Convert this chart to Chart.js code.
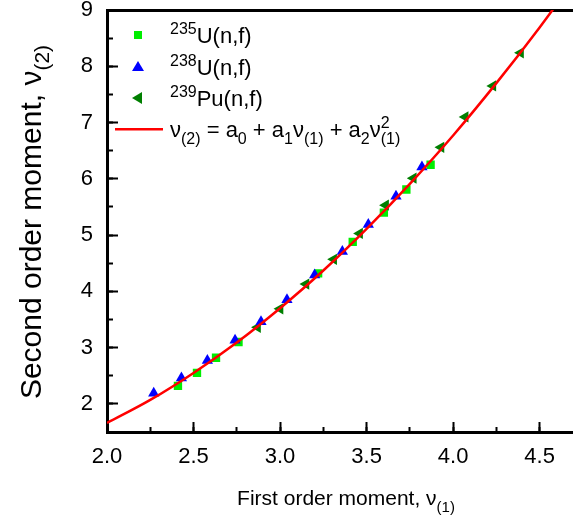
<!DOCTYPE html>
<html>
<head>
<meta charset="utf-8">
<script src="https://cdn.jsdelivr.net/npm/chart.js@4/dist/chart.umd.min.js"></script>
<style>
html,body{margin:0;padding:0;background:#fff;overflow:hidden;}
#wrap{position:relative;width:579px;height:524px;}
</style>
</head>
<body>
<div id="wrap"><canvas id="c" width="579" height="524"></canvas></div>
<script>
// ---- data ----
const u235X = [2.41, 2.52, 2.63, 2.76, 3.22, 3.42, 3.60, 3.73, 3.87];
const u235Y = [2.32, 2.55, 2.82, 3.10, 4.32, 4.88, 5.40, 5.81, 6.25];

const u238X = [2.27, 2.43, 2.58, 2.74, 2.89, 3.04, 3.20, 3.36, 3.51, 3.67, 3.82];
const u238Y = [2.19, 2.46, 2.77, 3.13, 3.46, 3.85, 4.29, 4.71, 5.19, 5.69, 6.21];

const pu239X = [2.87, 3.00, 3.15, 3.31, 3.46, 3.61, 3.77, 3.93, 4.07, 4.23, 4.39];
const pu239Y = [3.36, 3.69, 4.13, 4.57, 5.03, 5.53, 6.01, 6.56, 7.10, 7.65, 8.24];

const fitX = [2.00, 2.25, 2.50, 2.75, 3.00, 3.25, 3.50, 3.75, 4.00, 4.25, 4.50, 4.70];
const fitY = [1.66, 2.07, 2.55, 3.09, 3.70, 4.37, 5.11, 5.91, 6.77, 7.70, 8.69, 9.53];

const xMin = 2.0, xMax = 4.69, xMajor = 0.5, xMinor = 0.25;
const yMin = 1.5, yMax = 9.0, yMajor = 1, yMinor = 0.5;

const FONT = "'Liberation Sans', Arial, Helvetica, sans-serif";
const AXIS = '#000';
const pts = (xs, ys) => xs.map((x, i) => ({x: x, y: ys[i]}));

function drawRich(ctx, x, y, parts, align) {
  let total = 0;
  parts.forEach(p => { ctx.font = p.s + 'px ' + FONT; if (!p.stack) total += ctx.measureText(p.t).width; });
  let cx = align === 'center' ? x - total / 2 : x;
  ctx.textAlign = 'left';
  ctx.textBaseline = 'alphabetic';
  parts.forEach(p => {
    ctx.font = p.s + 'px ' + FONT;
    ctx.fillText(p.t, cx, y + (p.dy || 0));
    if (!p.stack) cx += ctx.measureText(p.t).width;
  });
}

const decor = {
  id: 'decor',
  afterDraw(chart) {
    const ctx = chart.ctx;
    ctx.save();
    const lx = 138;
    const rows = [35, 67, 98];
    ctx.fillStyle = '#00ee00';
    ctx.fillRect(lx - 4, rows[0] - 4, 8, 8);
    ctx.fillStyle = '#0000ff';
    ctx.beginPath();
    ctx.moveTo(lx, rows[1] - 6); ctx.lineTo(lx + 6, rows[1] + 4); ctx.lineTo(lx - 6, rows[1] + 4); ctx.closePath(); ctx.fill();
    ctx.fillStyle = '#007f00';
    ctx.beginPath();
    ctx.moveTo(lx - 6, rows[2]); ctx.lineTo(lx + 4, rows[2] - 6); ctx.lineTo(lx + 4, rows[2] + 6); ctx.closePath(); ctx.fill();
    ctx.fillStyle = '#ff0000';
    ctx.fillRect(115, 128, 48, 2.5);

    ctx.fillStyle = '#000';
    const tx = 170;
    drawRich(ctx, tx, rows[0] + 8, [{t: '235', s: 16, dy: -9}, {t: 'U(n,f)', s: 22}]);
    drawRich(ctx, tx, rows[1] + 8, [{t: '238', s: 16, dy: -9}, {t: 'U(n,f)', s: 22}]);
    drawRich(ctx, tx, rows[2] + 8, [{t: '239', s: 16, dy: -9}, {t: 'Pu(n,f)', s: 22}]);
    drawRich(ctx, tx, 137, [
      {t: 'ν', s: 22}, {t: '(2)', s: 16, dy: 7},
      {t: ' = a', s: 22}, {t: '0', s: 16, dy: 7},
      {t: ' + a', s: 22}, {t: '1', s: 16, dy: 7},
      {t: 'ν', s: 22}, {t: '(1)', s: 16, dy: 7},
      {t: ' + a', s: 22}, {t: '2', s: 16, dy: 7},
      {t: 'ν', s: 22}, {t: '2', s: 16, dy: -9, stack: true}, {t: '(1)', s: 16, dy: 7}
    ]);

    drawRich(ctx, 346, 505, [
      {t: 'First order moment, ν', s: 21}, {t: '(1)', s: 15, dy: 7}
    ], 'center');
    ctx.save();
    ctx.translate(41, 222);
    ctx.rotate(-Math.PI / 2);
    drawRich(ctx, 0, 0, [
      {t: 'Second order moment, ν', s: 30}, {t: '(2)', s: 21, dy: 8}
    ], 'center');
    ctx.restore();
    ctx.restore();
  }
};

const axisFont = {family: FONT, size: 22};
const noPadX = s => { s.paddingLeft = 0; s.paddingRight = 0; };
const noPadY = s => { s.paddingTop = 0; s.paddingBottom = 0; };

new Chart(document.getElementById('c'), {
  type: 'scatter',
  data: {
    datasets: [
      {label: 'fit', data: pts(fitX, fitY), showLine: true, borderColor: '#ff0000', borderWidth: 2.5,
       pointRadius: 0, cubicInterpolationMode: 'monotone', fill: false, order: 0},
      {label: '238U(n,f)', data: pts(u238X, u238Y), pointStyle: 'triangle', pointRadius: 6.5,
       backgroundColor: '#0000ff', borderColor: '#0000ff', borderWidth: 0, order: 1},
      {label: '239Pu(n,f)', data: pts(pu239X, pu239Y), pointStyle: 'triangle', rotation: -90, pointRadius: 6.5,
       backgroundColor: '#007f00', borderColor: '#007f00', borderWidth: 0, order: 2},
      {label: '235U(n,f)', data: pts(u235X, u235Y), pointStyle: 'rect', pointRadius: 5.9,
       backgroundColor: '#00ee00', borderColor: '#00ee00', borderWidth: 0, order: 3}
    ]
  },
  options: {
    responsive: false,
    animation: false,
    devicePixelRatio: 1,
    layout: {padding: {top: 10, right: 0, left: 0, bottom: 0}},
    plugins: {legend: {display: false}, tooltip: {enabled: false}},
    scales: {
      x: {
        type: 'linear', position: 'bottom', min: xMin, max: xMax,
        afterFit(s) { s.height = 92; noPadX(s); },
        grid: {display: true, drawOnChartArea: false, drawTicks: true, tickLength: -10, tickWidth: 2, tickColor: AXIS},
        border: {display: true, color: AXIS, width: 3},
        ticks: {
          stepSize: xMajor, autoSkip: false, maxRotation: 0, padding: 22, includeBounds: false,
          color: '#000', font: axisFont,
          callback: v => v.toFixed(1)
        }
      },
      xMinorAxis: {
        type: 'linear', position: 'bottom', weight: -1, min: xMin, max: xMax,
        afterFit(s) { s.height = 0; noPadX(s); },
        grid: {display: true, drawOnChartArea: false, drawTicks: true, tickLength: -5, tickWidth: 2, tickColor: AXIS},
        border: {display: false},
        ticks: {stepSize: xMinor, autoSkip: false, includeBounds: false, maxRotation: 0, padding: 0,
                font: {size: 1}, callback: () => ''}
      },
      xTop: {
        type: 'linear', position: 'top', min: xMin, max: xMax,
        afterFit(s) { s.height = 0; noPadX(s); },
        grid: {display: false},
        border: {display: true, color: AXIS, width: 3},
        ticks: {display: false}
      },
      y: {
        type: 'linear', position: 'left', min: yMin, max: yMax,
        afterFit(s) { s.width = 107; noPadY(s); },
        grid: {display: true, drawOnChartArea: false, drawTicks: true, tickLength: -11, tickWidth: 2, tickColor: AXIS},
        border: {display: true, color: AXIS, width: 3},
        ticks: {
          stepSize: yMajor, autoSkip: false, padding: 25, includeBounds: false,
          color: '#000', font: axisFont,
          callback: v => String(v)
        }
      },
      yMinorAxis: {
        type: 'linear', position: 'left', weight: -1, min: yMin, max: yMax,
        afterFit(s) { s.width = 0; noPadY(s); },
        grid: {display: true, drawOnChartArea: false, drawTicks: true, tickLength: -6, tickWidth: 2, tickColor: AXIS},
        border: {display: false},
        ticks: {stepSize: yMinor, autoSkip: false, includeBounds: false, padding: 0,
                font: {size: 1}, callback: () => ''}
      }
    }
  },
  plugins: [decor]
});
</script>
</body>
</html>
